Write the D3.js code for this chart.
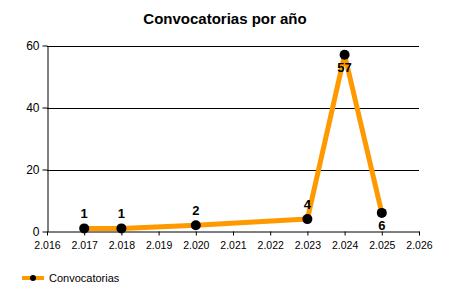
<!DOCTYPE html>
<html>
<head>
<meta charset="utf-8">
<script src="https://cdn.jsdelivr.net/npm/d3@7"></script>
<style>
body { margin: 0; background: #fff; }
text { font-family: "Liberation Sans", Arial, sans-serif; }
</style>
</head>
<body>
<div id="chart"></div>
<script>
// data
var years = [2017, 2018, 2020, 2023, 2024, 2025];
var counts = [1, 1, 2, 4, 57, 6];
var yTicks = [0, 20, 40, 60];
var xTicks = [2016, 2017, 2018, 2019, 2020, 2021, 2022, 2023, 2024, 2025, 2026];
var seriesName = "Convocatorias";

var w = 450, h = 300;
var plotLeft = 47, plotRight = 419, plotTop = 45.5, plotBottom = 231.5;

var svg = d3.select("#chart")
	.append("svg")
	.attr("width", w)
	.attr("height", h);

var x = d3.scaleLinear().domain([2016, 2026]).range([plotLeft, plotRight]);
var y = d3.scaleLinear().domain([0, 60]).range([plotBottom, plotTop]);

var fmt = function(v) { return d3.format(",.3f")(v / 1000).replace(",", ""); };

// title
svg.append("text")
	.attr("x", 225)
	.attr("y", 24)
	.attr("text-anchor", "middle")
	.style("font-size", "15px")
	.style("font-weight", "bold")
	.text("Convocatorias por año");

// gridlines
svg.append("g")
	.selectAll("line")
	.data(yTicks.filter(function(d) { return d > 0; }))
	.enter().append("line")
	.attr("x1", plotLeft).attr("x2", plotRight)
	.attr("y1", function(d) { return Math.round(y(d)) + 0.5; })
	.attr("y2", function(d) { return Math.round(y(d)) + 0.5; })
	.style("stroke", "#000");

// y axis
var yAxis = svg.append("g")
	.attr("transform", "translate(" + (plotLeft + 0.5) + ",0)")
	.call(d3.axisLeft(y).tickValues(yTicks).tickSize(5).tickSizeOuter(0).tickPadding(3));
yAxis.selectAll("text").style("font-size", "12px").style("fill", "#000");

// x axis
var xAxis = svg.append("g")
	.attr("transform", "translate(0," + plotBottom + ")")
	.call(d3.axisBottom(x).tickValues(xTicks).tickFormat(fmt).tickSize(4).tickSizeOuter(0).tickPadding(6));
xAxis.selectAll("text").style("font-size", "10.5px").style("fill", "#000");
svg.selectAll(".domain").style("stroke", "#000");
svg.selectAll(".tick line").style("stroke", "#000");

var pts = years.map(function(yr, i) { return { year: yr, value: counts[i], i: i }; });

// line
svg.append("path")
	.datum(pts)
	.attr("d", d3.line().x(function(d) { return x(d.year); }).y(function(d) { return y(d.value); }))
	.style("fill", "none")
	.style("stroke", "#ff9900")
	.style("stroke-width", 5)
	.style("stroke-linejoin", "round");

// points
svg.append("g")
	.selectAll("circle")
	.data(pts)
	.enter().append("circle")
	.attr("cx", function(d) { return x(d.year); })
	.attr("cy", function(d) { return y(d.value); })
	.attr("r", 5)
	.style("fill", "#000");

// labels: below for peaks and after a drop
function below(d) {
	var prev = d.i > 0 ? counts[d.i - 1] : null;
	var next = d.i < counts.length - 1 ? counts[d.i + 1] : null;
	var peak = prev !== null && next !== null && d.value > prev && d.value > next;
	return peak || (prev !== null && d.value < prev);
}

svg.append("g")
	.selectAll("text")
	.data(pts)
	.enter().append("text")
	.attr("x", function(d) { return x(d.year); })
	.attr("y", function(d) { return y(d.value) + (below(d) ? 17 : -10); })
	.attr("text-anchor", "middle")
	.style("font-size", "13px")
	.style("font-weight", "bold")
	.text(function(d) { return d.value; });

// legend
var lg = svg.append("g").attr("transform", "translate(22,278)");
lg.append("line").attr("x1", 0).attr("x2", 22).attr("y1", 0).attr("y2", 0)
	.style("stroke", "#ff9900").style("stroke-width", 4);
lg.append("circle").attr("cx", 11).attr("cy", 0).attr("r", 3).style("fill", "#000");
lg.append("text").attr("x", 27).attr("y", 4).style("font-size", "11px").text(seriesName);
</script>
</body>
</html>
